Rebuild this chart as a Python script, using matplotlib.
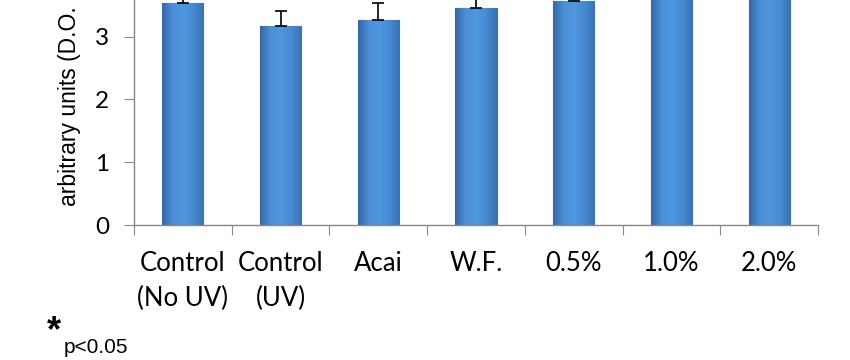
import numpy as np
import matplotlib
matplotlib.use("Agg")
import matplotlib.pyplot as plt
from matplotlib.colors import LinearSegmentedColormap

categories = ["Control\n(No UV)", "Control\n(UV)", "Acai", "W.F.", "0.5%", "1.0%", "2.0%"]
values = [3.53, 3.17, 3.27, 3.45, 3.56, 3.90, 4.00]
errors = [0.20, 0.23, 0.26, 0.20, 0.20, 0.20, 0.20]
yticks = [0, 1, 2, 3, 4, 5]

fig = plt.figure(figsize=(8.5, 3.6), dpi=100)
# axes runs past the top of the figure: the source picture is cropped
ax = fig.add_axes([134 / 850, 135 / 360, 684 / 850, 314 / 360])

x = np.arange(len(categories))
bars = ax.bar(x, values, width=0.42, color="#4a8fd6", edgecolor="#3a6fae",
              linewidth=0.8, zorder=2)
ax.errorbar(x, values, yerr=[np.zeros(len(values)), errors], fmt="none",
            ecolor="black", elinewidth=1.2, capsize=4, capthick=1.2, zorder=3)

# shaded bars like the original
cmap = LinearSegmentedColormap.from_list(
    "barshade", ["#3567a6", "#4a90d9", "#4f97e0", "#468ad2", "#3a72b4"])
grad = np.linspace(0, 1, 64).reshape(1, -1)
for b in bars:
    x0, w, h = b.get_x(), b.get_width(), b.get_height()
    im = ax.imshow(grad, extent=[x0, x0 + w, 0, h], aspect="auto",
                   cmap=cmap, zorder=2.1, interpolation="bicubic")
    im.set_clip_path(b)

ax.set_xlim(-0.5, len(categories) - 0.5)
ax.set_ylim(0, 5)
ax.set_yticks(yticks)
ax.set_xticks(np.arange(len(categories) + 1) - 0.5, minor=False)
ax.set_xticklabels([])
ax.set_xticks(x, minor=True)
ax.set_xticklabels(categories, minor=True, fontfamily="Lato", fontsize=18.5,
                   linespacing=1.45)
ax.tick_params(axis="x", which="minor", length=0, pad=19)
ax.tick_params(axis="x", which="major", length=7, color="#888888", direction="out")
ax.tick_params(axis="y", length=7, color="#888888", pad=11, labelsize=17.5)
for lab in ax.get_yticklabels():
    lab.set_fontfamily("Lato")

for s in ["top", "right"]:
    ax.spines[s].set_visible(False)
for s in ["left", "bottom"]:
    ax.spines[s].set_color("#888888")
    ax.spines[s].set_linewidth(1.0)

fig.text(70 / 850, 1 - 206 / 360, "arbitrary units (D.O. 570 nm)", rotation=90,
         ha="center", va="bottom", fontsize=16.5, fontfamily="Liberation Sans")

fig.text(47 / 850, 1 - 349 / 360, "*", fontsize=26, fontweight="bold",
         fontfamily="Liberation Sans", ha="left", va="bottom")
fig.text(64 / 850, 1 - 357 / 360, "p<0.05", fontsize=15,
         fontfamily="Liberation Sans", ha="left", va="bottom")

fig.savefig("out.png", dpi=100)
